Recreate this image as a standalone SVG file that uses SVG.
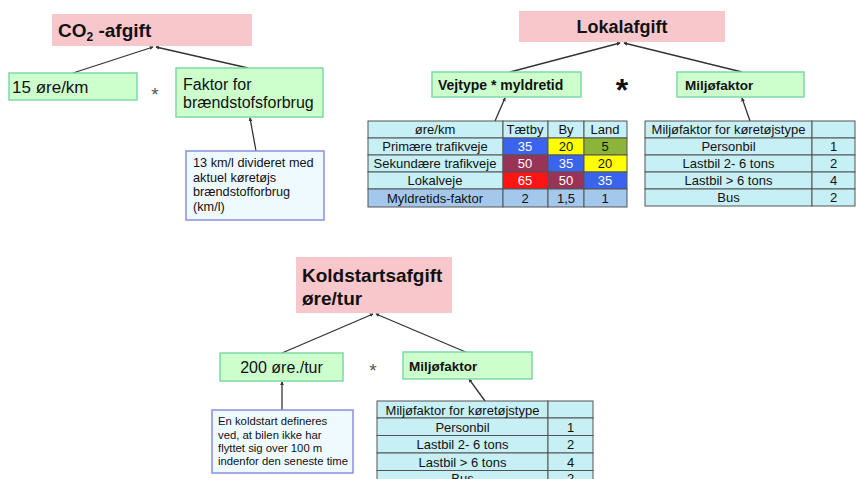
<svg xmlns="http://www.w3.org/2000/svg" width="856" height="479" viewBox="0 0 856 479">
<defs>
<style>
text{font-family:"Liberation Sans",Arial,sans-serif;fill:#111}
.pink{fill:#f7c7cc}
.green{fill:#ccffcc;stroke:#7fd9a8;stroke-width:1.5}
.note{fill:#eefaff;stroke:#8a8fe0;stroke-width:1.5}
.cy{fill:#c6eff6;stroke:#555;stroke-width:1}
.lb{fill:#a3c8ec;stroke:#555;stroke-width:1}
.c{stroke:#555;stroke-width:1}
.conn{stroke:#333;stroke-width:1.3;fill:none;marker-end:url(#ah)}
.t{font-size:13px;text-anchor:middle}
.w{fill:#fff}
.b{font-weight:bold}
</style>
<marker id="ah" viewBox="0 0 6 6" refX="5" refY="3" markerWidth="3" markerHeight="3" orient="auto"><path d="M0,0 L6,3 L0,6 z" fill="#333"/></marker>
</defs>
<rect width="856" height="479" fill="#fff"/>

<g id="connectors">
<line class="conn" x1="73" y1="73" x2="153" y2="47"/>
<line class="conn" x1="248" y1="68" x2="156" y2="47"/>
<line class="conn" x1="256" y1="151" x2="250" y2="118"/>
<line class="conn" x1="510" y1="72" x2="620" y2="43"/>
<line class="conn" x1="742" y1="72" x2="624" y2="43"/>
<line class="conn" x1="495" y1="121" x2="505" y2="98"/>
<line class="conn" x1="750" y1="121" x2="742" y2="98"/>
<line class="conn" x1="282" y1="353" x2="373" y2="314"/>
<line class="conn" x1="468" y1="353" x2="376" y2="314"/>
<line class="conn" x1="282" y1="410" x2="282" y2="382"/>
<line class="conn" x1="485" y1="401" x2="469" y2="379"/>
</g>

<g id="co2">
<rect class="pink" x="52" y="14" width="200" height="32"/>
<text x="58" y="37" font-size="19" class="b">CO<tspan font-size="12" dy="4">2</tspan><tspan dy="-4"> -afgift</tspan></text>
</g>
<g id="ore15">
<rect class="green" x="9" y="73" width="128" height="27"/>
<text x="12" y="93" font-size="17">15 øre/km</text>
</g>
<text x="155" y="101" font-size="19" text-anchor="middle" style="fill:#555">*</text>
<g id="faktor">
<rect class="green" x="176" y="68" width="147" height="49"/>
<text x="183" y="90" font-size="16">Faktor for</text>
<text x="183" y="108" font-size="16">brændstofsforbrug</text>
</g>
<g id="note1">
<rect class="note" x="186" y="151" width="138" height="69"/>
<text x="193" y="167" font-size="12.7">13 km/l divideret med</text>
<text x="193" y="181.5" font-size="12.7">aktuel køretøjs</text>
<text x="193" y="196" font-size="12.7">brændstofforbrug</text>
<text x="193" y="210.5" font-size="12.7">(km/l)</text>
</g>

<g id="lokal">
<rect class="pink" x="519" y="11" width="206" height="31"/>
<text x="622" y="33" font-size="18" class="b" text-anchor="middle">Lokalafgift</text>
</g>
<g id="vejtype">
<rect class="green" x="432" y="72" width="149" height="25"/>
<text x="438" y="90" font-size="14" class="b">Vejtype * myldretid</text>
</g>
<text x="622" y="101" font-size="32" class="b" text-anchor="middle">*</text>
<g id="miljo1">
<rect class="green" x="677" y="72" width="127" height="25"/>
<text x="685" y="90" font-size="13.5" class="b">Miljøfaktor</text>
</g>

<g id="table-vej">
<rect class="cy" x="368" y="121" width="135" height="17"/>
<rect class="cy" x="503" y="121" width="45" height="17"/>
<rect class="cy" x="548" y="121" width="36" height="17"/>
<rect class="cy" x="584" y="121" width="43" height="17"/>
<rect class="cy" x="368" y="138" width="135" height="17"/>
<rect class="c" fill="#3b64ee" x="503" y="138" width="45" height="17"/>
<rect class="c" fill="#ffff00" x="548" y="138" width="36" height="17"/>
<rect class="c" fill="#8db43a" x="584" y="138" width="43" height="17"/>
<rect class="cy" x="368" y="155" width="135" height="17"/>
<rect class="c" fill="#9a3358" x="503" y="155" width="45" height="17"/>
<rect class="c" fill="#3b64ee" x="548" y="155" width="36" height="17"/>
<rect class="c" fill="#ffff00" x="584" y="155" width="43" height="17"/>
<rect class="cy" x="368" y="172" width="135" height="17"/>
<rect class="c" fill="#ff1414" x="503" y="172" width="45" height="17"/>
<rect class="c" fill="#9a3358" x="548" y="172" width="36" height="17"/>
<rect class="c" fill="#3b64ee" x="584" y="172" width="43" height="17"/>
<rect class="lb" x="368" y="189" width="135" height="18"/>
<rect class="lb" x="503" y="189" width="45" height="18"/>
<rect class="lb" x="548" y="189" width="36" height="18"/>
<rect class="lb" x="584" y="189" width="43" height="18"/>
<text class="t" x="435" y="134">øre/km</text>
<text class="t" x="525" y="134">Tætby</text>
<text class="t" x="566" y="134">By</text>
<text class="t" x="605" y="134">Land</text>
<text class="t" x="435" y="151">Primære trafikveje</text>
<text class="t w" x="525" y="151">35</text>
<text class="t" x="566" y="151">20</text>
<text class="t" x="605" y="151">5</text>
<text class="t" x="435" y="168">Sekundære trafikveje</text>
<text class="t w" x="525" y="168">50</text>
<text class="t w" x="566" y="168">35</text>
<text class="t" x="605" y="168">20</text>
<text class="t" x="435" y="185">Lokalveje</text>
<text class="t w" x="525" y="185">65</text>
<text class="t w" x="566" y="185">50</text>
<text class="t w" x="605" y="185">35</text>
<text class="t" x="435" y="202.5">Myldretids-faktor</text>
<text class="t" x="525" y="202.5">2</text>
<text class="t" x="566" y="202.5">1,5</text>
<text class="t" x="605" y="202.5">1</text>
</g>

<g id="table-miljo1">
<rect class="cy" x="645" y="121" width="167" height="17"/>
<rect class="cy" x="812" y="121" width="43" height="17"/>
<rect class="cy" x="645" y="138" width="167" height="17"/>
<rect class="cy" x="812" y="138" width="43" height="17"/>
<rect class="cy" x="645" y="155" width="167" height="17"/>
<rect class="cy" x="812" y="155" width="43" height="17"/>
<rect class="cy" x="645" y="172" width="167" height="17"/>
<rect class="cy" x="812" y="172" width="43" height="17"/>
<rect class="cy" x="645" y="189" width="167" height="17"/>
<rect class="cy" x="812" y="189" width="43" height="17"/>
<text class="t" font-size="12.5" x="728.5" y="134">Miljøfaktor for køretøjstype</text>
<text class="t" x="728.5" y="151">Personbil</text>
<text class="t" x="833.5" y="151">1</text>
<text class="t" x="728.5" y="168">Lastbil 2- 6 tons</text>
<text class="t" x="833.5" y="168">2</text>
<text class="t" x="728.5" y="185">Lastbil &gt; 6 tons</text>
<text class="t" x="833.5" y="185">4</text>
<text class="t" x="728.5" y="202">Bus</text>
<text class="t" x="833.5" y="202">2</text>
</g>

<g id="koldstart">
<rect class="pink" x="296" y="257" width="156" height="56"/>
<text x="302" y="282" font-size="19" class="b">Koldstartsafgift</text>
<text x="302" y="305" font-size="19" class="b">øre/tur</text>
</g>
<g id="ore200">
<rect class="green" x="220" y="353" width="123" height="28"/>
<text x="281.5" y="373" font-size="16" text-anchor="middle">200 øre./tur</text>
</g>
<text x="373" y="377" font-size="19" text-anchor="middle" style="fill:#555">*</text>
<g id="miljo2">
<rect class="green" x="403" y="352" width="129" height="27"/>
<text x="409" y="371" font-size="13.5" class="b">Miljøfaktor</text>
</g>
<g id="note2">
<rect class="note" x="212" y="410" width="141" height="63"/>
<text x="218" y="425" font-size="11.3">En koldstart defineres</text>
<text x="218" y="438.5" font-size="11.3">ved, at bilen ikke har</text>
<text x="218" y="452" font-size="11.3">flyttet sig over 100 m</text>
<text x="218" y="465" font-size="11.3">indenfor den seneste time</text>
</g>

<g id="table-miljo2">
<rect class="cy" x="377" y="401" width="171" height="17"/>
<rect class="cy" x="548" y="401" width="45" height="17"/>
<rect class="cy" x="377" y="418" width="171" height="17.5"/>
<rect class="cy" x="548" y="418" width="45" height="17.5"/>
<rect class="cy" x="377" y="435.5" width="171" height="17.5"/>
<rect class="cy" x="548" y="435.5" width="45" height="17.5"/>
<rect class="cy" x="377" y="453" width="171" height="17.5"/>
<rect class="cy" x="548" y="453" width="45" height="17.5"/>
<rect class="cy" x="377" y="470.5" width="171" height="17.5"/>
<rect class="cy" x="548" y="470.5" width="45" height="17.5"/>
<text class="t" font-size="13.5" x="462.5" y="414.5">Miljøfaktor for køretøjstype</text>
<text class="t" font-size="13.5" x="462.5" y="431.5">Personbil</text>
<text class="t" font-size="13.5" x="570.5" y="431.5">1</text>
<text class="t" font-size="13.5" x="462.5" y="449">Lastbil 2- 6 tons</text>
<text class="t" font-size="13.5" x="570.5" y="449">2</text>
<text class="t" font-size="13.5" x="462.5" y="466.5">Lastbil &gt; 6 tons</text>
<text class="t" font-size="13.5" x="570.5" y="466.5">4</text>
<text class="t" font-size="13.5" x="462.5" y="482.5">Bus</text>
<text class="t" font-size="13.5" x="570.5" y="482.5">2</text>
</g>
</svg>
